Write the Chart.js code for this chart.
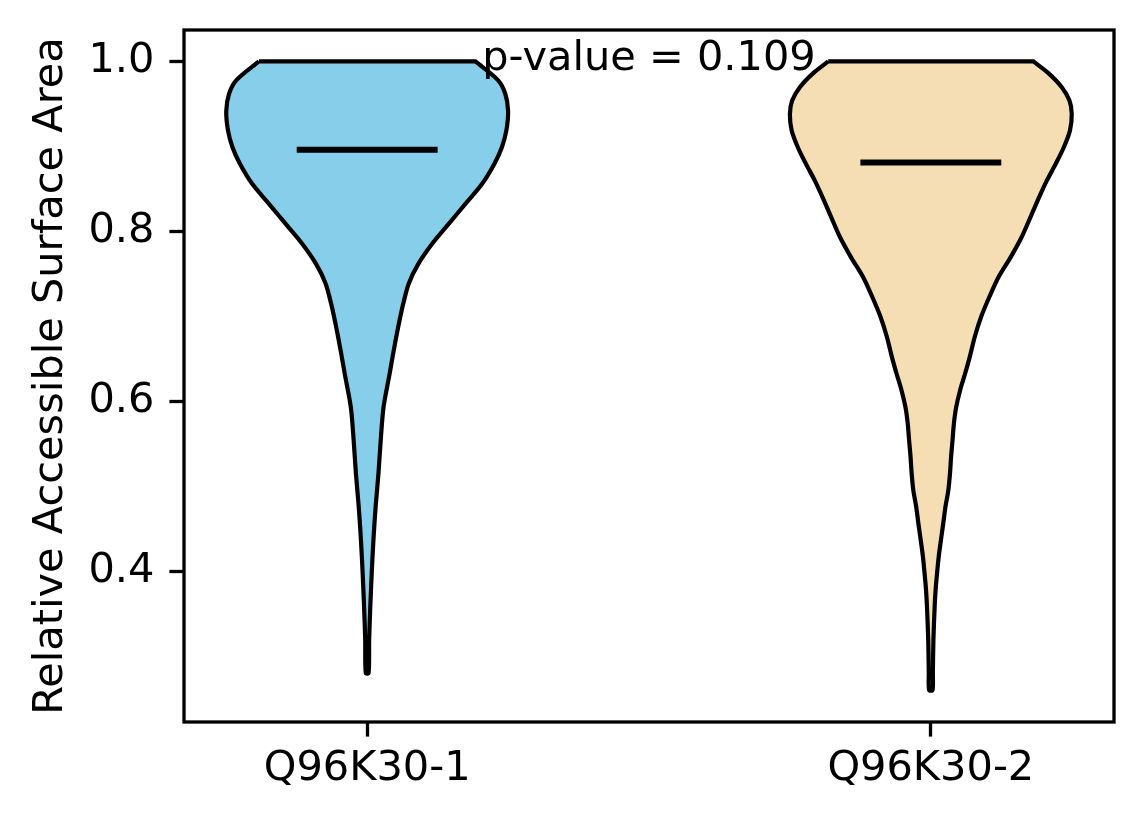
<!DOCTYPE html>
<html>
<head>
<meta charset="utf-8">
<script src="https://cdn.jsdelivr.net/npm/chart.js@4.4.1/dist/chart.umd.min.js"></script>
<style>
  body { margin: 0; background: #fff; }
  canvas { display: block; }
</style>
</head>
<body>
<canvas id="violin-chart" width="1144" height="824"></canvas>
<script>
// Categories and their positions on the x axis
const categories = ["Q96K30-1", "Q96K30-2"]
const positions = [1, 2]
const pValueText = "p-value = 0.109"

// Violin 1 outline: y values and half-width (x-axis units)
const violin1Y = [1.000, 0.978, 0.962, 0.942, 0.919, 0.899, 0.880, 0.856, 0.833, 0.809, 0.786, 0.762, 0.739, 0.715, 0.684, 0.652, 0.633, 0.593, 0.554, 0.515, 0.476, 0.436, 0.397, 0.358, 0.319, 0.280]
const violin1HalfWidth = [0.192, 0.232, 0.245, 0.250, 0.247, 0.239, 0.226, 0.204, 0.175, 0.145, 0.116, 0.091, 0.074, 0.064, 0.054, 0.045, 0.040, 0.029, 0.024, 0.020, 0.015, 0.011, 0.0080, 0.0055, 0.0035, 0.0025]

// Violin 2 outline
const violin2Y = [1.000, 0.986, 0.970, 0.954, 0.938, 0.919, 0.899, 0.880, 0.860, 0.840, 0.817, 0.793, 0.770, 0.746, 0.723, 0.699, 0.676, 0.652, 0.633, 0.613, 0.593, 0.574, 0.554, 0.535, 0.515, 0.495, 0.476, 0.456, 0.437, 0.417, 0.397, 0.378, 0.358, 0.319, 0.280, 0.260]
const violin2HalfWidth = [0.182, 0.209, 0.232, 0.246, 0.250, 0.247, 0.236, 0.222, 0.206, 0.192, 0.177, 0.161, 0.142, 0.120, 0.104, 0.089, 0.078, 0.069, 0.061, 0.052, 0.045, 0.041, 0.0385, 0.036, 0.034, 0.031, 0.026, 0.022, 0.018, 0.014, 0.011, 0.0085, 0.0068, 0.0046, 0.0036, 0.0030]

// Mean of each group
const means = [0.896, 0.881]

// Y-axis ticks
const yTicks = [0.4, 0.6, 0.8, 1.0]

const yMin = 0.2225
const yMax = 1.037
const xMin = 0.675
const xMax = 2.325
const meanHalfLength = 0.125
const pValueX = 1.5
const pValueY = 0.99

const fontSize = 41.5
Chart.defaults.font.family = "'DejaVu Sans', sans-serif"
Chart.defaults.font.size = fontSize
Chart.defaults.color = "#000"

// Build the outline: left edge top to bottom, then right edge bottom to top
function violinOutline(pos, ys, halfWidths) {
  const points = ys.map((y, i) => ({ x: pos - halfWidths[i], y: y }))
  for (let i = ys.length - 1; i >= 0; i--) {
    points.push({ x: pos + halfWidths[i], y: ys[i] })
  }
  // repeat the top-right corner so the top edge stays straight
  points.push({ x: pos + halfWidths[0], y: ys[0] })
  points.push({ x: pos - halfWidths[0], y: ys[0] })
  return points
}

function meanLine(pos, value) {
  return [
    { x: pos - meanHalfLength, y: value },
    { x: pos + meanHalfLength, y: value },
  ]
}

const bodyStyle = {
  fill: "shape",
  borderColor: "#000",
  borderWidth: 4.2,
  pointRadius: 0,
  tension: 0.3,
  order: 2,
}

const meanStyle = {
  fill: false,
  borderColor: "#000",
  borderWidth: 6,
  borderCapStyle: "butt",
  pointRadius: 0,
  order: 1,
}

// Plot frame (the four spines)
const framePlugin = {
  id: "frame",
  afterDraw(chart) {
    const { ctx, chartArea } = chart
    ctx.save()
    ctx.strokeStyle = "#000"
    ctx.lineWidth = 3.3
    ctx.strokeRect(
      chartArea.left,
      chartArea.top,
      chartArea.right - chartArea.left,
      chartArea.bottom - chartArea.top
    )
    ctx.restore()
  },
}

// p-value text in data coordinates
const pValuePlugin = {
  id: "pvalue",
  afterDatasetsDraw(chart) {
    const { ctx, scales } = chart
    ctx.save()
    ctx.font = `${fontSize}px 'DejaVu Sans', sans-serif`
    ctx.fillStyle = "#000"
    ctx.textAlign = "center"
    ctx.textBaseline = "alphabetic"
    ctx.fillText(
      pValueText,
      scales.x.getPixelForValue(pValueX),
      scales.y.getPixelForValue(pValueY)
    )
    ctx.restore()
  },
}

const ctx = document.getElementById("violin-chart").getContext("2d")

new Chart(ctx, {
  type: "line",
  data: {
    datasets: [
      {
        ...bodyStyle,
        label: categories[0],
        data: violinOutline(positions[0], violin1Y, violin1HalfWidth),
        backgroundColor: "#87CEEB",
      },
      {
        ...bodyStyle,
        label: categories[1],
        data: violinOutline(positions[1], violin2Y, violin2HalfWidth),
        backgroundColor: "#F5DEB3",
      },
      { ...meanStyle, label: "mean 1", data: meanLine(positions[0], means[0]) },
      { ...meanStyle, label: "mean 2", data: meanLine(positions[1], means[1]) },
    ],
  },
  options: {
    responsive: false,
    animation: false,
    layout: {
      padding: { left: 0, top: 30, right: 30, bottom: 0 },
    },
    plugins: {
      legend: { display: false },
      tooltip: { enabled: false },
    },
    scales: {
      x: {
        type: "linear",
        min: xMin,
        max: xMax,
        afterBuildTicks: (scale) => {
          scale.ticks = positions.map((v) => ({ value: v }))
        },
        afterFit: (scale) => {
          scale.height = 102
          scale.paddingLeft = 0
          scale.paddingRight = 0
        },
        ticks: {
          autoSkip: false,
          maxRotation: 0,
          padding: 8,
          font: { size: fontSize, lineHeight: 1.2 },
          callback: (value) => categories[positions.indexOf(value)],
        },
        grid: {
          drawOnChartArea: false,
          drawTicks: true,
          tickLength: 14.6,
          tickWidth: 3.3,
          tickColor: "#000",
        },
        border: { display: false },
      },
      y: {
        type: "linear",
        min: yMin,
        max: yMax,
        afterBuildTicks: (scale) => {
          scale.ticks = yTicks.map((v) => ({ value: v }))
        },
        afterFit: (scale) => {
          scale.width = 184
          // keep label padding from pushing the plot area down
          scale.paddingTop = 0
          scale.paddingBottom = 0
        },
        ticks: {
          padding: 15,
          font: { size: fontSize, lineHeight: 1.2 },
          callback: (value) => value.toFixed(1),
        },
        grid: {
          drawOnChartArea: false,
          drawTicks: true,
          tickLength: 14.6,
          tickWidth: 3.3,
          tickColor: "#000",
        },
        border: { display: false },
        title: {
          display: true,
          text: "Relative Accessible Surface Area",
          font: { size: fontSize, lineHeight: 1.2 },
          padding: { top: 26, bottom: 0 },
        },
      },
    },
  },
  plugins: [framePlugin, pValuePlugin],
})
</script>
</body>
</html>
